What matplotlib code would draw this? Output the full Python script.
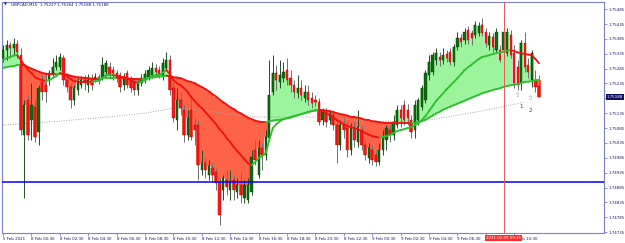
import matplotlib
matplotlib.use("Agg")
import matplotlib.pyplot as plt
import matplotlib.transforms as mtransforms
from matplotlib.collections import LineCollection
import numpy as np

# GBPCAD M15, bars from 5 Feb 22:30 to 9 Feb 12:15
open_ = [
    1.75320, 1.75347, 1.75364, 1.75354, 1.75367, 1.75330, 1.75061, 1.75179, 1.75112, 1.75155,
    1.75071, 1.75240, 1.75229, 1.75246, 1.75270, 1.75290, 1.75290, 1.75320, 1.75246, 1.75223,
    1.75179, 1.75213, 1.75229, 1.75246, 1.75229, 1.75253, 1.75246, 1.75256, 1.75256, 1.75273,
    1.75290, 1.75280, 1.75270, 1.75263, 1.75229, 1.75270, 1.75246, 1.75240, 1.75213, 1.75236,
    1.75246, 1.75256, 1.75263, 1.75287, 1.75280, 1.75256, 1.75287, 1.75313, 1.75219, 1.75112,
    1.75179, 1.75145, 1.75061, 1.75145, 1.75095, 1.75095, 1.74944, 1.74967, 1.74927, 1.74950,
    1.74937, 1.74903, 1.74876, 1.74910, 1.74876, 1.74910, 1.74870, 1.74893, 1.74849, 1.74843,
    1.74870, 1.75011, 1.74927, 1.75018, 1.74994, 1.75051, 1.75206, 1.75270, 1.75240, 1.75253,
    1.75280, 1.75253, 1.75229, 1.75203, 1.75219, 1.75186, 1.75206, 1.75186, 1.75179, 1.75172,
    1.75112, 1.75139, 1.75112, 1.75129, 1.75095, 1.75028, 1.75095, 1.75085, 1.75011, 1.75085,
    1.75038, 1.75078, 1.75028, 1.74984, 1.75011, 1.74994, 1.74970, 1.75011, 1.75044, 1.75078,
    1.75061, 1.75095, 1.75145, 1.75162, 1.75145, 1.75112, 1.75078, 1.75112, 1.75155, 1.75179,
    1.75263, 1.75273, 1.75313, 1.75324, 1.75313, 1.75334, 1.75340, 1.75307, 1.75357, 1.75387,
    1.75381, 1.75414, 1.75404, 1.75398, 1.75404, 1.75431, 1.75408, 1.75364, 1.75391, 1.75347,
    1.75347, 1.75347, 1.75337, 1.75398, 1.75337, 1.75290, 1.75236, 1.75371, 1.75297, 1.75246,
    1.75246, 1.75227]
high = [
    1.75364, 1.75381, 1.75374, 1.75387, 1.75381, 1.75354, 1.75179, 1.75196, 1.75236, 1.75179,
    1.75229, 1.75263, 1.75270, 1.75280, 1.75320, 1.75330, 1.75337, 1.75330, 1.75256, 1.75236,
    1.75229, 1.75253, 1.75260, 1.75263, 1.75266, 1.75266, 1.75270, 1.75266, 1.75324, 1.75313,
    1.75307, 1.75293, 1.75280, 1.75273, 1.75270, 1.75280, 1.75260, 1.75253, 1.75246, 1.75266,
    1.75280, 1.75293, 1.75307, 1.75300, 1.75293, 1.75320, 1.75340, 1.75330, 1.75240, 1.75219,
    1.75206, 1.75162, 1.75145, 1.75196, 1.75118, 1.75112, 1.75011, 1.74984, 1.74977, 1.74967,
    1.74950, 1.74917, 1.74927, 1.74944, 1.74944, 1.74927, 1.74917, 1.74937, 1.74910, 1.74917,
    1.75011, 1.75044, 1.75044, 1.75034, 1.75078, 1.75313, 1.75330, 1.75297, 1.75313, 1.75307,
    1.75320, 1.75280, 1.75246, 1.75263, 1.75246, 1.75229, 1.75229, 1.75206, 1.75196, 1.75186,
    1.75152, 1.75152, 1.75145, 1.75145, 1.75118, 1.75112, 1.75118, 1.75105, 1.75102, 1.75105,
    1.75145, 1.75095, 1.75044, 1.75034, 1.75028, 1.75011, 1.75034, 1.75078, 1.75095, 1.75095,
    1.75129, 1.75162, 1.75162, 1.75179, 1.75166, 1.75129, 1.75179, 1.75186, 1.75229, 1.75280,
    1.75330, 1.75340, 1.75354, 1.75340, 1.75354, 1.75347, 1.75354, 1.75367, 1.75408, 1.75401,
    1.75421, 1.75428, 1.75414, 1.75445, 1.75441, 1.75455, 1.75421, 1.75408, 1.75404, 1.75421,
    1.75364, 1.75472, 1.75421, 1.75414, 1.75364, 1.75313, 1.75381, 1.75408, 1.75320, 1.75347,
    1.75280, 1.75264]
low = [
    1.75307, 1.75313, 1.75320, 1.75330, 1.75320, 1.75061, 1.74849, 1.75044, 1.75044, 1.75038,
    1.75028, 1.75179, 1.75172, 1.75229, 1.75260, 1.75280, 1.75280, 1.75229, 1.75206, 1.75152,
    1.75162, 1.75196, 1.75219, 1.75213, 1.75206, 1.75213, 1.75240, 1.75233, 1.75246, 1.75260,
    1.75253, 1.75246, 1.75240, 1.75206, 1.75213, 1.75219, 1.75206, 1.75196, 1.75196, 1.75226,
    1.75236, 1.75246, 1.75253, 1.75260, 1.75253, 1.75246, 1.75280, 1.75196, 1.75105, 1.75078,
    1.75129, 1.75038, 1.75044, 1.75044, 1.75028, 1.74910, 1.74927, 1.74917, 1.74910, 1.74903,
    1.74876, 1.74759, 1.74843, 1.74860, 1.74843, 1.74843, 1.74849, 1.74833, 1.74833, 1.74833,
    1.74860, 1.74960, 1.74917, 1.74944, 1.74977, 1.75044, 1.75196, 1.75213, 1.75219, 1.75240,
    1.75229, 1.75206, 1.75186, 1.75186, 1.75179, 1.75172, 1.75162, 1.75152, 1.75159, 1.75095,
    1.75095, 1.75088, 1.75098, 1.75078, 1.74967, 1.75011, 1.75051, 1.74987, 1.74994, 1.75021,
    1.75021, 1.75011, 1.74977, 1.74967, 1.74960, 1.74957, 1.74960, 1.74994, 1.75011, 1.75038,
    1.75044, 1.75085, 1.75088, 1.75095, 1.75095, 1.75051, 1.75051, 1.75095, 1.75145, 1.75169,
    1.75246, 1.75263, 1.75297, 1.75293, 1.75300, 1.75307, 1.75297, 1.75293, 1.75347, 1.75357,
    1.75367, 1.75367, 1.75364, 1.75387, 1.75394, 1.75394, 1.75357, 1.75347, 1.75340, 1.75337,
    1.75307, 1.75313, 1.75327, 1.75320, 1.75219, 1.75213, 1.75213, 1.75273, 1.75253, 1.75223,
    1.75206, 1.75188]
close = [
    1.75347, 1.75364, 1.75354, 1.75367, 1.75340, 1.75078, 1.75162, 1.75061, 1.75162, 1.75055,
    1.75219, 1.75206, 1.75206, 1.75270, 1.75290, 1.75307, 1.75324, 1.75246, 1.75223, 1.75179,
    1.75219, 1.75240, 1.75246, 1.75236, 1.75246, 1.75229, 1.75256, 1.75246, 1.75297, 1.75303,
    1.75263, 1.75270, 1.75253, 1.75223, 1.75256, 1.75229, 1.75219, 1.75213, 1.75236, 1.75253,
    1.75266, 1.75280, 1.75287, 1.75273, 1.75263, 1.75303, 1.75313, 1.75213, 1.75118, 1.75179,
    1.75152, 1.75061, 1.75118, 1.75055, 1.75078, 1.74960, 1.74967, 1.74944, 1.74957, 1.74927,
    1.74900, 1.74792, 1.74917, 1.74886, 1.74903, 1.74876, 1.74893, 1.74860, 1.74893, 1.74893,
    1.74987, 1.74977, 1.75018, 1.74994, 1.75055, 1.75196, 1.75270, 1.75246, 1.75263, 1.75273,
    1.75246, 1.75229, 1.75206, 1.75219, 1.75196, 1.75206, 1.75179, 1.75169, 1.75172, 1.75105,
    1.75139, 1.75105, 1.75132, 1.75095, 1.75028, 1.75095, 1.75078, 1.75011, 1.75085, 1.75044,
    1.75088, 1.75028, 1.74994, 1.75018, 1.74977, 1.74970, 1.75011, 1.75051, 1.75085, 1.75061,
    1.75105, 1.75145, 1.75118, 1.75112, 1.75118, 1.75071, 1.75162, 1.75179, 1.75219, 1.75270,
    1.75307, 1.75330, 1.75337, 1.75313, 1.75330, 1.75320, 1.75307, 1.75357, 1.75387, 1.75374,
    1.75408, 1.75381, 1.75387, 1.75431, 1.75428, 1.75404, 1.75371, 1.75394, 1.75357, 1.75408,
    1.75313, 1.75408, 1.75408, 1.75330, 1.75236, 1.75229, 1.75371, 1.75290, 1.75273, 1.75337,
    1.75223, 1.75188]

# slow and fast moving averages as drawn on the chart
slow_ma = [
    1.75287, 1.75290, 1.75292, 1.75293, 1.75297, 1.75298, 1.75297, 1.75290, 1.75285, 1.75280,
    1.75275, 1.75271, 1.75268, 1.75266, 1.75266, 1.75266, 1.75268, 1.75266, 1.75265, 1.75261,
    1.75258, 1.75256, 1.75255, 1.75253, 1.75253, 1.75251, 1.75251, 1.75251, 1.75253, 1.75255,
    1.75255, 1.75255, 1.75255, 1.75253, 1.75253, 1.75253, 1.75251, 1.75250, 1.75250, 1.75250,
    1.75251, 1.75253, 1.75255, 1.75256, 1.75258, 1.75260, 1.75261, 1.75260, 1.75256, 1.75255,
    1.75253, 1.75248, 1.75243, 1.75240, 1.75236, 1.75229, 1.75223, 1.75216, 1.75208, 1.75199,
    1.75191, 1.75181, 1.75172, 1.75164, 1.75155, 1.75149, 1.75140, 1.75134, 1.75127, 1.75120,
    1.75115, 1.75110, 1.75107, 1.75105, 1.75105, 1.75107, 1.75110, 1.75112, 1.75113, 1.75115,
    1.75118, 1.75122, 1.75125, 1.75128, 1.75132, 1.75135, 1.75139, 1.75142, 1.75145, 1.75147,
    1.75145, 1.75144, 1.75142, 1.75139, 1.75135, 1.75132, 1.75130, 1.75127, 1.75123, 1.75122,
    1.75120, 1.75117, 1.75113, 1.75112, 1.75108, 1.75107, 1.75105, 1.75103, 1.75102, 1.75102,
    1.75102, 1.75102, 1.75102, 1.75102, 1.75102, 1.75102, 1.75103, 1.75105, 1.75108, 1.75113,
    1.75120, 1.75127, 1.75134, 1.75140, 1.75147, 1.75152, 1.75157, 1.75162, 1.75167, 1.75172,
    1.75177, 1.75182, 1.75187, 1.75192, 1.75197, 1.75202, 1.75206, 1.75209, 1.75213, 1.75216,
    1.75219, 1.75223, 1.75226, 1.75229, 1.75231, 1.75233, 1.75236, 1.75240, 1.75241, 1.75243,
    1.75245, 1.75245]
fast_ma = [
    1.75314, 1.75320, 1.75324, 1.75329, 1.75330, 1.75314, 1.75297, 1.75280, 1.75270, 1.75256,
    1.75250, 1.75246, 1.75243, 1.75246, 1.75253, 1.75260, 1.75270, 1.75266, 1.75260, 1.75250,
    1.75243, 1.75241, 1.75241, 1.75241, 1.75241, 1.75240, 1.75243, 1.75243, 1.75253, 1.75263,
    1.75263, 1.75263, 1.75261, 1.75256, 1.75256, 1.75253, 1.75246, 1.75240, 1.75238, 1.75241,
    1.75246, 1.75253, 1.75260, 1.75263, 1.75263, 1.75271, 1.75280, 1.75266, 1.75246, 1.75236,
    1.75229, 1.75219, 1.75206, 1.75189, 1.75176, 1.75162, 1.75152, 1.75139, 1.75125, 1.75112,
    1.75098, 1.75081, 1.75068, 1.75051, 1.75038, 1.75021, 1.75007, 1.74994, 1.74980, 1.74967,
    1.74960, 1.74970, 1.74984, 1.74991, 1.75001, 1.75044, 1.75085, 1.75098, 1.75108, 1.75115,
    1.75118, 1.75120, 1.75125, 1.75128, 1.75132, 1.75135, 1.75139, 1.75142, 1.75144, 1.75145,
    1.75142, 1.75135, 1.75128, 1.75122, 1.75112, 1.75105, 1.75098, 1.75092, 1.75088, 1.75085,
    1.75081, 1.75075, 1.75068, 1.75063, 1.75058, 1.75055, 1.75053, 1.75055, 1.75058, 1.75061,
    1.75068, 1.75075, 1.75078, 1.75081, 1.75085, 1.75088, 1.75095, 1.75102, 1.75112, 1.75125,
    1.75142, 1.75159, 1.75176, 1.75189, 1.75202, 1.75216, 1.75228, 1.75240, 1.75253, 1.75266,
    1.75280, 1.75290, 1.75298, 1.75308, 1.75317, 1.75324, 1.75327, 1.75330, 1.75334, 1.75337,
    1.75339, 1.75342, 1.75345, 1.75347, 1.75344, 1.75339, 1.75337, 1.75334, 1.75332, 1.75330,
    1.75317, 1.75303]

# long dotted average (read every 8 bars)
long_bars = [0, 8, 16, 24, 32, 40, 48, 56, 64, 72, 80, 88, 96, 104, 112, 120, 128, 136, 144, 147]
long_ma = [1.75095, 1.75102, 1.75108, 1.75117, 1.75125, 1.75135, 1.75152, 1.75145, 1.75132, 1.75122,
           1.75122, 1.75122, 1.75115, 1.75108, 1.75107, 1.75112, 1.75128, 1.75145, 1.75165, 1.75172]

time_labels = ["5 Feb 2021", "8 Feb 00:30", "8 Feb 02:30", "8 Feb 04:30", "8 Feb 06:30",
               "8 Feb 08:30", "8 Feb 10:30", "8 Feb 12:30", "8 Feb 14:30", "8 Feb 16:30",
               "8 Feb 18:30", "8 Feb 20:30", "8 Feb 22:30", "9 Feb 00:30", "9 Feb 02:30",
               "9 Feb 04:30", "9 Feb 06:30", "9 Feb 08:30", "9 Feb 10:30"]
label_bars = [0, 8, 16, 24, 32, 40, 48, 56, 64, 72, 80, 88, 96, 104, 112, 120, 128, 136, 144]
price_ticks = [1.75485, 1.75435, 1.75385, 1.75335, 1.75285, 1.75235, 1.75185, 1.75135,
               1.75085, 1.75035, 1.74985, 1.74935, 1.74885, 1.74835, 1.74785, 1.74735]

hline_price = 1.74903
vline_bar = 141
vline_label = "2021.02.09 09:45"
arrow_bars = [145, 148.7]
arrow_prices = [1.75196, 1.75186]
num_bars = [146, 148.7]
num_prices = [1.75159, 1.75145]
num_text = ["1", "2"]

GREEN_FILL = "#9cf59c"
RED_FILL = "#ff6347"
GREEN_LINE = "#2cbf2c"
RED_LINE = "#f01010"
FRAME = "#7f7fd0"
TXT = "#1a1a60"
FS = 2.9

o = np.array(open_); h = np.array(high); l = np.array(low); c = np.array(close)
slow = np.array(slow_ma); fast = np.array(fast_ma)
x = np.arange(len(c))

fig = plt.figure(figsize=(6.25, 2.43), dpi=100)
ax = fig.add_axes([2/625, 10/243, 602/625, 231/243])
ax.set_facecolor("white")

# cloud: columns between slow MA and close
fill_cols = [GREEN_FILL if cc >= ss else RED_FILL for cc, ss in zip(c, slow)]
ax.bar(x, c - slow, bottom=slow, width=1.02, color=fill_cols, linewidth=0, zorder=1)

ax.plot(long_bars, long_ma, color="#a8a8a8", lw=0.7, ls=(0, (1, 1.5)), zorder=1.5)

# candles
up = c >= o
ax.vlines(x[up], l[up], h[up], color="#244f24", lw=0.7, zorder=3)
ax.vlines(x[~up], l[~up], h[~up], color="#707070", lw=0.7, zorder=3)
body = np.maximum(np.abs(c - o), 0.00002)
ax.bar(x[up], body[up], bottom=o[up], width=0.62, color="#0e6a0e", edgecolor="#0a3a0a", lw=0.3, zorder=3.5)
ax.bar(x[~up], body[~up], bottom=c[~up], width=0.62, color="#ff1a1a", edgecolor="#a00000", lw=0.3, zorder=3.5)


def slope_lines(vals):
    pts = np.column_stack([x, vals])
    segs = np.stack([pts[:-1], pts[1:]], axis=1)
    cols = []
    prev = GREEN_LINE
    for d in np.diff(vals):
        if d > 0:
            prev = GREEN_LINE
        elif d < 0:
            prev = RED_LINE
        cols.append(prev)
    return LineCollection(segs, colors=cols, linewidths=1.3, zorder=4, capstyle="round")


ax.add_collection(slope_lines(slow))
ax.add_collection(slope_lines(fast))

ax.axhline(hline_price, color="#0000ff", lw=1.1, zorder=5)
ax.axvline(vline_bar, color="#e85a5a", lw=0.7, zorder=5)

for xb, yp in zip(arrow_bars, arrow_prices):
    ax.text(xb, yp, "\u21e7", fontsize=4.5, color="#909090", ha="center", va="center", zorder=6)
for xb, yp, t in zip(num_bars, num_prices, num_text):
    ax.text(xb, yp, t, fontsize=4, color="#404040", ha="center", va="center", zorder=6)

ax.set_xlim(-0.3, 169.3)
ax.set_ylim(1.74732, 1.75509)

ax.yaxis.tick_right()
ax.set_yticks(price_ticks)
# the 1.75185 label sits under the current price tag
ax.set_yticklabels(["" if abs(v - close[-1]) < 0.0002 else f"{v:.5f}" for v in price_ticks])
ax.set_xticks(label_bars)
ax.set_xticklabels(time_labels, ha="left")
ax.tick_params(axis="both", labelsize=FS, labelcolor=TXT, color=FRAME, length=2, width=0.6, pad=1)
ax.tick_params(axis="x", pad=0.8)
for sp in ax.spines.values():
    sp.set_color(FRAME)
    sp.set_linewidth(0.8)

# current price tag on the scale
tr = mtransforms.blended_transform_factory(ax.transAxes, ax.transData)
ax.text(1.005, c[-1], f"{c[-1]:.5f}", transform=tr, fontsize=FS, color="white", ha="left",
        va="center", bbox=dict(boxstyle="square,pad=0.25", fc="#101060", ec="none"), zorder=7, clip_on=False)

# time tag under the vertical line
tr2 = mtransforms.blended_transform_factory(ax.transData, ax.transAxes)
ax.text(vline_bar, -0.012, vline_label, transform=tr2, fontsize=FS, color="white", ha="center",
        va="top", bbox=dict(boxstyle="square,pad=0.3", fc="#ff2a2a", ec="none"), zorder=7, clip_on=False)

fig.text(4/625, 1 - 5/243, "\u25bc", fontsize=2.6, color=TXT, va="center")
fig.text(11/625, 1 - 5/243, "GBPCAD,M15  1.75227 1.75264 1.75188 1.75188", fontsize=FS,
         color=TXT, va="center")

fig.savefig("out.png", dpi=100, facecolor="white")
